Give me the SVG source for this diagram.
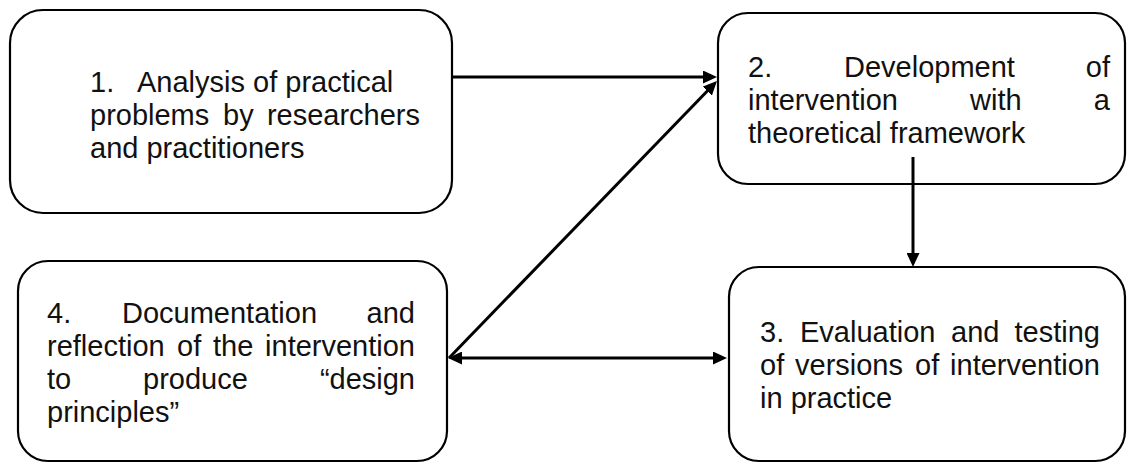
<svg xmlns="http://www.w3.org/2000/svg" width="1128" height="463" viewBox="0 0 1128 463">
  <style>
    .box { fill: #ffffff; stroke: #000000; stroke-width: 2.2; }
    .lbl { font-family: "Liberation Sans", Arial, sans-serif; font-size: 29px; fill: #111111; }
    .end { text-anchor: end; }
    .conn { stroke: #000000; stroke-width: 3; fill: none; }
  </style>
  <defs>
    <marker id="arrow" markerUnits="userSpaceOnUse" markerWidth="14" markerHeight="13" refX="5" refY="6.5" orient="auto-start-reverse">
      <path d="M0,0 L14,6.5 L0,13 z" fill="#000000"/>
    </marker>
  </defs>

  <rect width="1128" height="463" fill="#ffffff"/>

  <!-- Step 1 -->
  <g id="node-analysis">
    <rect class="box" x="10" y="10" width="442" height="203" rx="33" ry="33"/>
    <text class="lbl" x="90" y="92">1.</text>
    <text class="lbl" x="137" y="92">Analysis of practical</text>
    <text class="lbl" x="90" y="125">problems</text>
    <text class="lbl" x="223" y="125">by</text>
    <text class="lbl end" x="420" y="125">researchers</text>
    <text class="lbl" x="90" y="158">and practitioners</text>
  </g>

  <!-- Step 2 -->
  <g id="node-development">
    <rect class="box" x="718" y="13" width="407" height="171" rx="30" ry="30"/>
    <text class="lbl" x="748" y="77">2.</text>
    <text class="lbl" x="844" y="77">Development</text>
    <text class="lbl end" x="1110" y="77">of</text>
    <text class="lbl" x="748" y="110">intervention</text>
    <text class="lbl" x="970" y="110">with</text>
    <text class="lbl end" x="1110" y="110">a</text>
    <text class="lbl" x="748" y="143">theoretical framework</text>
  </g>

  <!-- Step 3 -->
  <g id="node-evaluation">
    <rect class="box" x="729" y="267" width="396" height="194" rx="30" ry="30"/>
    <text class="lbl" x="760" y="342">3.</text>
    <text class="lbl" x="800" y="342">Evaluation</text>
    <text class="lbl" x="951" y="342">and</text>
    <text class="lbl end" x="1100" y="342">testing</text>
    <text class="lbl" x="760" y="375">of</text>
    <text class="lbl" x="795" y="375">versions</text>
    <text class="lbl" x="915" y="375">of</text>
    <text class="lbl end" x="1100" y="375">intervention</text>
    <text class="lbl" x="760" y="408">in practice</text>
  </g>

  <!-- Step 4 -->
  <g id="node-documentation">
    <rect class="box" x="18" y="261" width="429" height="200" rx="30" ry="30"/>
    <text class="lbl" x="47" y="323">4.</text>
    <text class="lbl" x="122" y="323">Documentation</text>
    <text class="lbl end" x="415" y="323">and</text>
    <text class="lbl" x="47" y="356">reflection</text>
    <text class="lbl" x="177" y="356">of</text>
    <text class="lbl" x="213" y="356">the</text>
    <text class="lbl end" x="415" y="356">intervention</text>
    <text class="lbl" x="47" y="389">to</text>
    <text class="lbl" x="143" y="389">produce</text>
    <text class="lbl end" x="415" y="389">“design</text>
    <text class="lbl" x="47" y="422">principles”</text>
  </g>

  <!-- Connectors -->
  <g id="connectors">
    <path class="conn" d="M452,77 L708,77" marker-end="url(#arrow)"/>
    <path class="conn" d="M449,358 L710.7,87.5" marker-end="url(#arrow)"/>
    <path class="conn" d="M457,358 L718,358" marker-start="url(#arrow)" marker-end="url(#arrow)"/>
    <path class="conn" d="M913,157 L913,258" marker-end="url(#arrow)"/>
  </g>
</svg>
